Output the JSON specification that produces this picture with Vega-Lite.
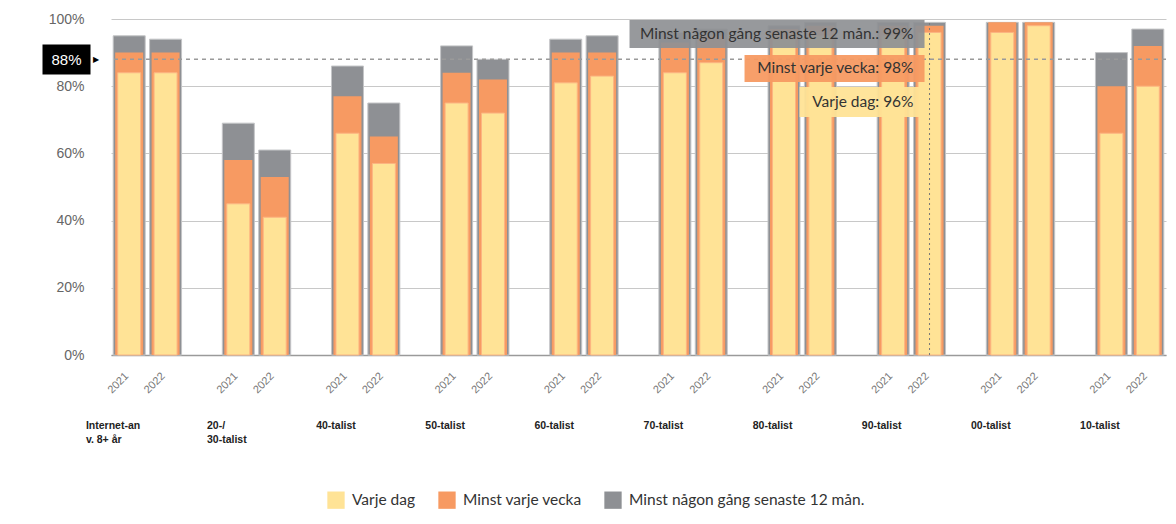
{
  "$schema": "https://vega.github.io/schema/vega-lite/v6.json",
  "width": 1055,
  "height": 336,
  "autosize": {"type": "none"},
  "padding": {"left": 111, "top": 19, "right": 10, "bottom": 169},
  "background": "white",
  "config": {
    "view": {"stroke": null},
    "font": "Lato",
    "legend": {
      "orient": "none",
      "legendX": 216,
      "legendY": 472,
      "direction": "horizontal",
      "symbolType": "square",
      "symbolSize": 300,
      "symbolStrokeWidth": 0,
      "symbolOpacity": 1,
      "labelFont": "Lato",
      "labelFontSize": 15.5,
      "labelColor": "#333333",
      "labelOffset": 7,
      "columnPadding": 22,
      "labelLimit": 400
    }
  },
  "datasets": {
    "bars": [
      {"group": "Internet-anv. 8+ år", "year": "2021", "daily": 84, "weekly": 90, "total": 95},
      {"group": "Internet-anv. 8+ år", "year": "2022", "daily": 84, "weekly": 90, "total": 94},
      {"group": "20-/30-talist", "year": "2021", "daily": 45, "weekly": 58, "total": 69},
      {"group": "20-/30-talist", "year": "2022", "daily": 41, "weekly": 53, "total": 61},
      {"group": "40-talist", "year": "2021", "daily": 66, "weekly": 77, "total": 86},
      {"group": "40-talist", "year": "2022", "daily": 57, "weekly": 65, "total": 75},
      {"group": "50-talist", "year": "2021", "daily": 75, "weekly": 84, "total": 92},
      {"group": "50-talist", "year": "2022", "daily": 72, "weekly": 82, "total": 88},
      {"group": "60-talist", "year": "2021", "daily": 81, "weekly": 90, "total": 94},
      {"group": "60-talist", "year": "2022", "daily": 83, "weekly": 90, "total": 95},
      {"group": "70-talist", "year": "2021", "daily": 84, "weekly": 93, "total": 96},
      {"group": "70-talist", "year": "2022", "daily": 87, "weekly": 95, "total": 97},
      {"group": "80-talist", "year": "2021", "daily": 94, "weekly": 97, "total": 98},
      {"group": "80-talist", "year": "2022", "daily": 95, "weekly": 98, "total": 99},
      {"group": "90-talist", "year": "2021", "daily": 95, "weekly": 98, "total": 99},
      {"group": "90-talist", "year": "2022", "daily": 96, "weekly": 98, "total": 99},
      {"group": "00-talist", "year": "2021", "daily": 96, "weekly": 99, "total": 99},
      {"group": "00-talist", "year": "2022", "daily": 98, "weekly": 99, "total": 99},
      {"group": "10-talist", "year": "2021", "daily": 66, "weekly": 80, "total": 90},
      {"group": "10-talist", "year": "2022", "daily": 80, "weekly": 92, "total": 97}
    ],
    "tips": [
      {"group": "90-talist", "year": "2022", "series": "Minst någon gång senaste 12 mån.", "label": "Minst någon gång senaste 12 mån.: 99%"},
      {"group": "90-talist", "year": "2022", "series": "Minst varje vecka", "label": "Minst varje vecka: 98%"},
      {"group": "90-talist", "year": "2022", "series": "Varje dag", "label": "Varje dag: 96%"}
    ]
  },
  "data": {"name": "bars"},
  "layer": [
    {
      "mark": {"type": "bar", "width": 32, "stroke": "#c4c5c7", "strokeWidth": 1},
      "encoding": {
        "x": {
          "field": "group",
          "type": "nominal",
          "scale": {"domain": ["Internet-anv. 8+ år", "20-/30-talist", "40-talist", "50-talist", "60-talist", "70-talist", "80-talist", "90-talist", "00-talist", "10-talist"], "paddingInner": 0.3333, "paddingOuter": 0},
          "axis": {
            "title": null,
            "ticks": false,
            "domain": true,
            "domainColor": "#9a9a9a",
            "domainWidth": 1.5,
            "grid": false,
            "labelAngle": 0,
            "labelAlign": "left",
            "labelBaseline": "top",
            "labelPadding": 65,
            "labelOffset": {"condition": {"test": "datum.value == 'Internet-anv. 8+ år'", "value": -61.5}, "value": -49.5},
            "labelFont": "Liberation Sans",
            "labelFontSize": 10.5,
            "labelFontWeight": "bold",
            "labelColor": "#222222",
            "labelLineHeight": 14,
            "labelOverlap": false,
            "labelFlush": false,
            "labelLimit": 200,
            "labelExpr": "datum.value == 'Internet-anv. 8+ år' ? ['Internet-an', 'v. 8+ år'] : datum.value == '20-/30-talist' ? ['20-/', '30-talist'] : datum.value"
          }
        },
        "xOffset": {"field": "year", "type": "nominal", "scale": {"domain": ["2021", "2022"], "paddingInner": 0, "paddingOuter": 0}},
        "y": {
          "field": "total",
          "type": "quantitative",
          "scale": {"domain": [0, 100], "nice": false},
          "axis": {
            "title": null,
            "values": [0, 20, 40, 60, 80, 100],
            "labelExpr": "datum.value + '%'",
            "ticks": false,
            "domain": false,
            "grid": true,
            "gridColor": "#c8c8c8",
            "gridWidth": 1,
            "labelPadding": 27,
            "labelFont": "Liberation Sans",
            "labelFontSize": 14,
            "labelColor": "#666666"
          }
        },
        "color": {
          "datum": "Minst någon gång senaste 12 mån.",
          "type": "nominal",
          "scale": {"domain": ["Varje dag", "Minst varje vecka", "Minst någon gång senaste 12 mån."], "range": ["#ffe396", "#f79a62", "#8e9094"]},
          "legend": {"title": null}
        }
      }
    },
    {
      "mark": {"type": "bar", "width": 28},
      "encoding": {
        "x": {"field": "group", "type": "nominal"},
        "xOffset": {"field": "year", "type": "nominal"},
        "y": {"field": "weekly", "type": "quantitative", "axis": null},
        "color": {"datum": "Minst varje vecka", "type": "nominal"}
      }
    },
    {
      "mark": {"type": "bar", "width": 23, "stroke": "#fcb582", "strokeWidth": 1},
      "encoding": {
        "x": {"field": "group", "type": "nominal"},
        "xOffset": {"field": "year", "type": "nominal"},
        "y": {"field": "daily", "type": "quantitative", "axis": null},
        "color": {"datum": "Varje dag", "type": "nominal"}
      }
    },
    {
      "mark": {"type": "text", "angle": 315, "align": "right", "baseline": "middle", "dx": -3, "font": "Liberation Sans", "fontSize": 11, "color": "#777777"},
      "encoding": {
        "x": {"field": "group", "type": "nominal"},
        "xOffset": {"field": "year", "type": "nominal"},
        "y": {"datum": -5.2, "type": "quantitative", "axis": null},
        "text": {"field": "year"}
      }
    },
    {
      "data": {"values": [{}]},
      "mark": {"type": "rule", "color": "#9a9a9a", "strokeDash": [4, 4], "strokeWidth": 1.5},
      "encoding": {
        "y": {
          "datum": 88,
          "type": "quantitative",
          "axis": {
            "orient": "left",
            "title": null,
            "values": [88],
            "labelExpr": "datum.value + '%'",
            "offset": 21,
            "domain": false,
            "grid": false,
            "ticks": true,
            "tickSize": 48,
            "tickWidth": 30,
            "tickColor": "#000000",
            "labelAlign": "center",
            "labelBaseline": "middle",
            "labelPadding": -24,
            "labelColor": "#ffffff",
            "labelFont": "Liberation Sans",
            "labelFontSize": 15
          }
        }
      }
    },
    {
      "data": {"values": [{}]},
      "mark": {"type": "point", "opacity": 0},
      "encoding": {
        "y": {
          "datum": 88,
          "type": "quantitative",
          "axis": {
            "orient": "left",
            "title": null,
            "values": [88],
            "labelExpr": "'▶'",
            "offset": 21,
            "domain": false,
            "grid": false,
            "ticks": false,
            "labelAlign": "left",
            "labelBaseline": "middle",
            "labelPadding": -2.5,
            "labelColor": "#000000",
            "labelFont": "DejaVu Sans",
            "labelFontSize": 8
          }
        }
      }
    },
    {
      "data": {"values": [{}]},
      "mark": {"type": "rule", "color": "#777777", "strokeDash": [2, 3], "strokeWidth": 1},
      "encoding": {
        "x": {"datum": "90-talist", "type": "nominal"},
        "xOffset": {"datum": "2022", "type": "nominal"},
        "y": {"datum": 0, "type": "quantitative", "axis": null},
        "y2": {"datum": 99}
      }
    },
    {
      "data": {"name": "tips"},
      "transform": [{"filter": "datum.series == 'Minst någon gång senaste 12 mån.'"}],
      "mark": {"type": "point", "filled": true, "size": 4, "shape": "M-300,-14H-5V14H-300Z", "color": "#8e9094", "opacity": 0.92},
      "encoding": {
        "x": {"field": "group", "type": "nominal"},
        "xOffset": {"field": "year", "type": "nominal"},
        "y": {"datum": 95.5, "type": "quantitative", "axis": null}
      }
    },
    {
      "data": {"name": "tips"},
      "transform": [{"filter": "datum.series == 'Minst varje vecka'"}],
      "mark": {"type": "point", "filled": true, "size": 4, "shape": "M-185,-13.5H-5V13.5H-185Z", "color": "#f79a62", "opacity": 0.95},
      "encoding": {
        "x": {"field": "group", "type": "nominal"},
        "xOffset": {"field": "year", "type": "nominal"},
        "y": {"datum": 85.3, "type": "quantitative", "axis": null}
      }
    },
    {
      "data": {"name": "tips"},
      "transform": [{"filter": "datum.series == 'Varje dag'"}],
      "mark": {"type": "point", "filled": true, "size": 4, "shape": "M-130,-15H-5V15H-130Z", "color": "#ffe396", "opacity": 0.95},
      "encoding": {
        "x": {"field": "group", "type": "nominal"},
        "xOffset": {"field": "year", "type": "nominal"},
        "y": {"datum": 75.3, "type": "quantitative", "axis": null}
      }
    },
    {
      "data": {"name": "tips"},
      "transform": [{"filter": "datum.series == 'Minst någon gång senaste 12 mån.'"}],
      "mark": {"type": "text", "align": "right", "baseline": "middle", "dx": -16, "font": "Lato", "fontSize": 15.5, "color": "#333333"},
      "encoding": {
        "x": {"field": "group", "type": "nominal"},
        "xOffset": {"field": "year", "type": "nominal"},
        "y": {"datum": 95.5, "type": "quantitative", "axis": null},
        "text": {"field": "label"}
      }
    },
    {
      "data": {"name": "tips"},
      "transform": [{"filter": "datum.series == 'Minst varje vecka'"}],
      "mark": {"type": "text", "align": "right", "baseline": "middle", "dx": -16, "font": "Lato", "fontSize": 15.5, "color": "#333333"},
      "encoding": {
        "x": {"field": "group", "type": "nominal"},
        "xOffset": {"field": "year", "type": "nominal"},
        "y": {"datum": 85.3, "type": "quantitative", "axis": null},
        "text": {"field": "label"}
      }
    },
    {
      "data": {"name": "tips"},
      "transform": [{"filter": "datum.series == 'Varje dag'"}],
      "mark": {"type": "text", "align": "right", "baseline": "middle", "dx": -16, "font": "Lato", "fontSize": 15.5, "color": "#333333"},
      "encoding": {
        "x": {"field": "group", "type": "nominal"},
        "xOffset": {"field": "year", "type": "nominal"},
        "y": {"datum": 75.3, "type": "quantitative", "axis": null},
        "text": {"field": "label"}
      }
    }
  ],
  "resolve": {"axis": {"y": "independent"}}
}
